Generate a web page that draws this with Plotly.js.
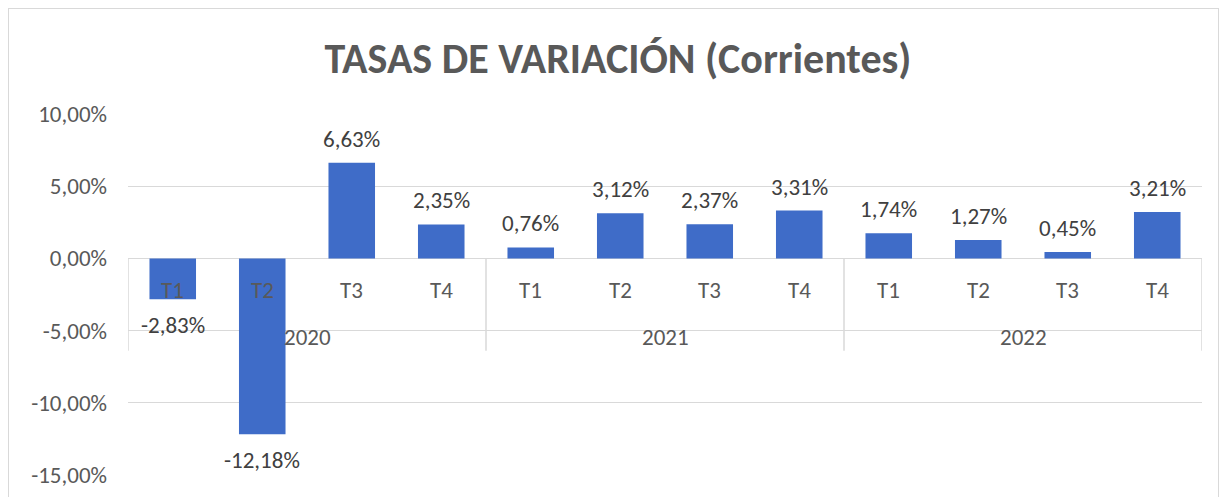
<!DOCTYPE html>
<html>
<head>
<meta charset="utf-8">
<script src="https://cdn.plot.ly/plotly-3.0.1.min.js"></script>
<style>
html,body{margin:0;padding:0;background:#fff;overflow:hidden;}
#frame{position:absolute;left:8px;top:8px;width:1211px;height:500px;border:1.5px solid #d9d9d9;box-sizing:border-box;pointer-events:none;z-index:5;}
#chart{position:absolute;left:0;top:0;width:1228px;height:497px;}
</style>
</head>
<body>
<div id="chart"></div>
<div id="frame"></div>
<script>
const years = ["2020", "2021", "2022"];
const quarters = ["T1", "T2", "T3", "T4"];
const values = [-2.83, -12.18, 6.63, 2.35, 0.76, 3.12, 2.37, 3.31, 1.74, 1.27, 0.45, 3.21];
const yTickVals = [-15, -10, -5, 0, 5, 10];
const yTickText = ["-15,00%", "-10,00%", "-5,00%", "0,00%", "5,00%", "10,00%"];

const cats = [];
const qLabels = [];
years.forEach(y => quarters.forEach(q => { cats.push(y + " " + q); qLabels.push(q); }));
const labels = values.map(v => v.toFixed(2).replace('.', ',') + '%');

const fontFam = "Carlito, Lato, 'Open Sans', sans-serif";

const trace = {
  type: 'bar',
  x: cats,
  y: values,
  marker: {color: '#3f6cc8', line: {width: 0}},
  hoverinfo: 'skip'
};

const annotations = [];
cats.forEach((c, i) => {
  annotations.push({x: c, y: 0, xref: 'x', yref: 'y', text: qLabels[i], showarrow: false,
    yshift: -32, font: {family: fontFam, size: 23, color: '#595959'}});
  const pos = values[i] >= 0;
  annotations.push({x: c, y: values[i], xref: 'x', yref: 'y', text: labels[i], showarrow: false,
    yanchor: pos ? 'bottom' : 'top', yshift: pos ? 8 : -10,
    font: {family: fontFam, size: 23, color: '#404040'}});
});
years.forEach((y, j) => {
  const mid = j * 4 + 1.5;
  annotations.push({x: mid, y: 0, xref: 'x', yref: 'y', text: y, showarrow: false,
    yshift: -79, font: {family: fontFam, size: 23, color: '#595959'}});
});

const shapes = [];
[-0.5, 3.5, 7.5, 11.5].forEach(xv => {
  shapes.push({type: 'line', xref: 'x', yref: 'y', x0: xv, x1: xv, y0: 0, y1: -6.4,
    line: {color: '#d9d9d9', width: 1.5}, layer: 'below'});
});

const layout = {
  width: 1228, height: 497,
  margin: {l: 128, r: 26, t: 114, b: 22},
  paper_bgcolor: '#ffffff', plot_bgcolor: '#ffffff',
  showlegend: false,
  bargap: 0.48,
  title: {text: '<b>TASAS DE VARIACIÓN (Corrientes)</b>', x: 618 / 1228, xref: 'container', xanchor: 'center',
    y: 1 - 58 / 497, yref: 'container', yanchor: 'middle',
    font: {family: fontFam, size: 42, color: '#595959'}},
  xaxis: {type: 'category', categoryarray: cats, range: [-0.5, 11.5], showticklabels: false,
    showgrid: false, zeroline: false, showline: false, ticks: ''},
  yaxis: {range: [-15, 10], tickvals: yTickVals, ticktext: yTickText, showgrid: true,
    gridcolor: '#d9d9d9', gridwidth: 1.2, zeroline: true, zerolinecolor: '#d9d9d9', zerolinewidth: 1.5,
    showline: false, ticks: '', ticklabelstandoff: 20,
    tickfont: {family: fontFam, size: 23, color: '#595959'}},
  annotations: annotations,
  shapes: shapes
};

Plotly.newPlot('chart', [trace], layout, {displayModeBar: false, staticPlot: true});
</script>
</body>
</html>
